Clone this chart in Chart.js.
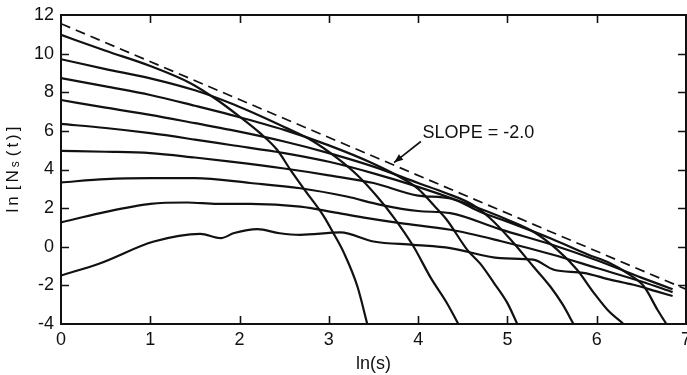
<!DOCTYPE html>
<html>
<head>
<meta charset="utf-8">
<script src="https://cdn.jsdelivr.net/npm/chart.js@4/dist/chart.umd.min.js"></script>
<style>
  html, body { margin: 0; padding: 0; background: #ffffff; }
  #wrap { width: 687px; height: 375px; }
</style>
</head>
<body>
<div id="wrap"><canvas id="c" width="687" height="375"></canvas></div>
<script>
// ---- data (x = ln(s), y = ln[Ns(t)]) ----
const xTickValues = [0, 1, 2, 3, 4, 5, 6, 7];
const yTickValues = [-4, -2, 0, 2, 4, 6, 8, 10, 12];
const xTitle = 'ln(s)';
const slopeLabel = 'SLOPE = -2.0';

const slopeLine = [[0, 11.55], [7, -2.2]];

const curve1 = [[0, 10.97], [0.5, 10.15], [1.0, 9.36], [1.45, 8.47], [1.75, 7.6], [2.0, 6.74], [2.23, 5.88], [2.42, 5.02], [2.57, 3.98], [2.72, 3.0], [2.94, 1.6], [3.05, 0.71], [3.17, -0.33], [3.32, -2.06], [3.43, -4]];
const curve2 = [[0, 9.71], [0.5, 9.2], [1.0, 8.72], [1.5, 8.1], [1.9, 7.43], [2.12, 7.0], [2.5, 6.2], [2.79, 5.55], [3.09, 4.6], [3.32, 3.7], [3.54, 2.6], [3.73, 1.5], [3.95, 0.0], [4.14, -1.6], [4.32, -2.9], [4.45, -4]];
const curve3 = [[0, 8.73], [0.5, 8.3], [1.0, 7.86], [1.5, 7.3], [1.9, 6.83], [2.5, 6.05], [3.0, 5.25], [3.5, 4.3], [3.8, 3.6], [4.0, 3.0], [4.17, 2.17], [4.32, 1.4], [4.55, -0.16], [4.7, -0.9], [4.85, -1.88], [5.0, -2.92], [5.11, -4]];
const curve4 = [[0, 7.6], [0.5, 7.2], [1.0, 6.83], [1.5, 6.4], [1.9, 6.05], [2.5, 5.45], [3.0, 4.85], [3.5, 4.15], [4.0, 3.3], [4.3, 2.8], [4.6, 2.2], [4.8, 1.5], [5.03, 0.4], [5.29, -1.02], [5.48, -2.06], [5.62, -3.0], [5.74, -4]];
const curve5 = [[0, 6.36], [0.5, 6.15], [1.0, 5.88], [1.5, 5.55], [1.9, 5.27], [2.5, 4.85], [3.0, 4.4], [3.5, 3.8], [4.0, 3.1], [4.5, 2.3], [5.0, 1.4], [5.3, 0.75], [5.56, -0.16], [5.78, -1.19], [5.97, -2.4], [6.12, -3.26], [6.3, -4]];
const curve6 = [[0, 4.96], [0.5, 4.92], [1.0, 4.85], [1.5, 4.62], [1.9, 4.41], [2.5, 4.05], [3.0, 3.7], [3.5, 3.3], [4.0, 2.65], [4.36, 2.5], [4.7, 1.8], [5.0, 1.3], [5.5, 0.4], [5.9, -0.4], [6.15, -0.85], [6.34, -1.36], [6.53, -2.06], [6.68, -3.26], [6.78, -4]];
const curve7 = [[0, 3.33], [0.5, 3.5], [1.0, 3.55], [1.5, 3.55], [2.12, 3.3], [2.68, 3.03], [3.2, 2.6], [3.58, 2.17], [4.0, 1.85], [4.36, 1.74], [4.92, 0.9], [5.5, 0.1], [6.0, -0.7], [6.5, -1.6], [6.85, -2.2]];
const curve8 = [[0, 1.26], [0.44, 1.74], [1.0, 2.22], [1.41, 2.29], [1.75, 2.22], [2.12, 2.22], [2.68, 2.08], [3.1, 1.75], [3.43, 1.48], [3.8, 1.22], [4.36, 0.88], [4.92, 0.3], [5.5, -0.4], [6.0, -1.1], [6.5, -1.8], [6.85, -2.35]];
const curve9 = [[0, -1.49], [0.44, -0.85], [1.04, 0.27], [1.56, 0.67], [1.79, 0.45], [1.94, 0.71], [2.2, 0.91], [2.45, 0.7], [2.68, 0.62], [3.13, 0.74], [3.5, 0.27], [3.95, 0.1], [4.36, -0.07], [4.92, -0.59], [5.29, -0.67], [5.52, -1.19], [5.85, -1.35], [6.15, -1.7], [6.41, -1.97], [6.67, -2.31], [6.85, -2.55]];

const curves = [curve1, curve2, curve3, curve4, curve5, curve6, curve7, curve8, curve9];

// annotation anchor (data coordinates)
const labelAt = [4.05, 5.9];
const arrowFrom = [4.03, 5.45];
const arrowTo = [3.73, 4.36];

const INK = '#111111';
const FONT = '"Liberation Sans", Arial, Helvetica, sans-serif';

const toPts = arr => arr.map(([x, y]) => ({ x, y }));

const datasets = curves.map(c => ({
  data: toPts(c),
  showLine: true,
  borderColor: INK,
  borderWidth: 2.2,
  pointRadius: 0,
  fill: false,
  cubicInterpolationMode: 'monotone'
}));
datasets.push({
  data: toPts(slopeLine),
  showLine: true,
  borderColor: INK,
  borderWidth: 1.7,
  borderDash: [10, 6],
  pointRadius: 0,
  fill: false
});

const framePlugin = {
  id: 'frame',
  afterDatasetsDraw(chart) {
    const { ctx, chartArea: a, scales: { x, y } } = chart;
    ctx.save();
    ctx.strokeStyle = INK;
    ctx.lineWidth = 2;
    ctx.beginPath();
    ctx.moveTo(a.left, a.top);
    ctx.lineTo(a.right, a.top);
    ctx.lineTo(a.right, a.bottom);
    ctx.stroke();
    ctx.lineWidth = 1.6;
    const L = 8;
    ctx.beginPath();
    xTickValues.forEach(v => {
      if (v <= x.min || v >= x.max) return;
      const px = Math.round(x.getPixelForValue(v)) + 0.5;
      ctx.moveTo(px, a.bottom); ctx.lineTo(px, a.bottom - L);
      ctx.moveTo(px, a.top); ctx.lineTo(px, a.top + L);
    });
    yTickValues.forEach(v => {
      if (v <= y.min || v >= y.max) return;
      const py = Math.round(y.getPixelForValue(v)) + 0.5;
      ctx.moveTo(a.left, py); ctx.lineTo(a.left + L, py);
      ctx.moveTo(a.right, py); ctx.lineTo(a.right - L, py);
    });
    ctx.stroke();
    ctx.restore();
  },
  afterDraw(chart) {
    const { ctx, chartArea: a, scales: { x, y } } = chart;
    ctx.save();
    ctx.fillStyle = INK;
    ctx.strokeStyle = INK;
    // slope annotation
    ctx.font = '18px ' + FONT;
    ctx.textAlign = 'left';
    ctx.textBaseline = 'middle';
    ctx.fillText(slopeLabel, x.getPixelForValue(labelAt[0]), y.getPixelForValue(labelAt[1]));
    const x0 = x.getPixelForValue(arrowFrom[0]), y0 = y.getPixelForValue(arrowFrom[1]);
    const x1 = x.getPixelForValue(arrowTo[0]), y1 = y.getPixelForValue(arrowTo[1]);
    ctx.lineWidth = 1.6;
    ctx.beginPath(); ctx.moveTo(x0, y0); ctx.lineTo(x1, y1); ctx.stroke();
    const ang = Math.atan2(y1 - y0, x1 - x0);
    const hl = 9, hw = 3.5;
    ctx.beginPath();
    ctx.moveTo(x1, y1);
    ctx.lineTo(x1 - hl * Math.cos(ang) + hw * Math.sin(ang), y1 - hl * Math.sin(ang) - hw * Math.cos(ang));
    ctx.lineTo(x1 - hl * Math.cos(ang) - hw * Math.sin(ang), y1 - hl * Math.sin(ang) + hw * Math.cos(ang));
    ctx.closePath(); ctx.fill();

    // y axis title: ln[N_s(t)] rotated, with subscript
    const parts = [
      { t: 'l', s: 17, dy: 0 }, { t: 'n', s: 17, dy: 0 }, { t: '[', s: 17, dy: 0, gap: 3 },
      { t: 'N', s: 17, dy: 0 }, { t: 's', s: 12, dy: 3 }, { t: '(', s: 17, dy: 0, gap: 2 },
      { t: 't', s: 17, dy: 0 }, { t: ')', s: 17, dy: 0 }, { t: ']', s: 17, dy: 0 }
    ];
    const sp = 3;
    let total = 0;
    parts.forEach(p => { ctx.font = p.s + 'px ' + FONT; p.w = ctx.measureText(p.t).width; total += p.w + sp + (p.gap || 0); });
    total -= sp;
    ctx.translate(13, (a.top + a.bottom) / 2);
    ctx.rotate(-Math.PI / 2);
    ctx.textAlign = 'left';
    ctx.textBaseline = 'middle';
    let cx = -total / 2;
    parts.forEach(p => {
      cx += (p.gap || 0);
      ctx.font = p.s + 'px ' + FONT;
      ctx.fillText(p.t, cx, p.dy);
      cx += p.w + sp;
    });
    ctx.restore();
  }
};

new Chart(document.getElementById('c'), {
  type: 'scatter',
  data: { datasets },
  plugins: [framePlugin],
  options: {
    responsive: false,
    animation: false,
    events: [],
    layout: { padding: { left: 0, right: 1, top: 15, bottom: 0 } },
    plugins: { legend: { display: false }, tooltip: { enabled: false } },
    scales: {
      x: {
        type: 'linear', min: 0, max: 7,
        afterBuildTicks: s => { s.ticks = xTickValues.map(v => ({ value: v })); },
        ticks: { font: { size: 18, family: FONT }, color: INK, padding: 5, maxRotation: 0, autoSkip: false },
        grid: { display: false, drawTicks: false },
        border: { display: true, color: INK, width: 2 },
        title: { display: true, text: xTitle, font: { size: 18, family: FONT }, color: INK, padding: { top: 2, bottom: 0 } },
        afterFit: s => { s.height = 51; s.paddingLeft = 0; s.paddingRight = 0; }
      },
      y: {
        type: 'linear', min: -4, max: 12,
        afterBuildTicks: s => { s.ticks = yTickValues.map(v => ({ value: v })); },
        ticks: { font: { size: 18, family: FONT }, color: INK, padding: 7, autoSkip: false },
        grid: { display: false, drawTicks: false },
        border: { display: true, color: INK, width: 2 },
        afterFit: s => { s.width = 61; s.paddingTop = 0; s.paddingBottom = 0; }
      }
    }
  }
});
</script>
</body>
</html>
